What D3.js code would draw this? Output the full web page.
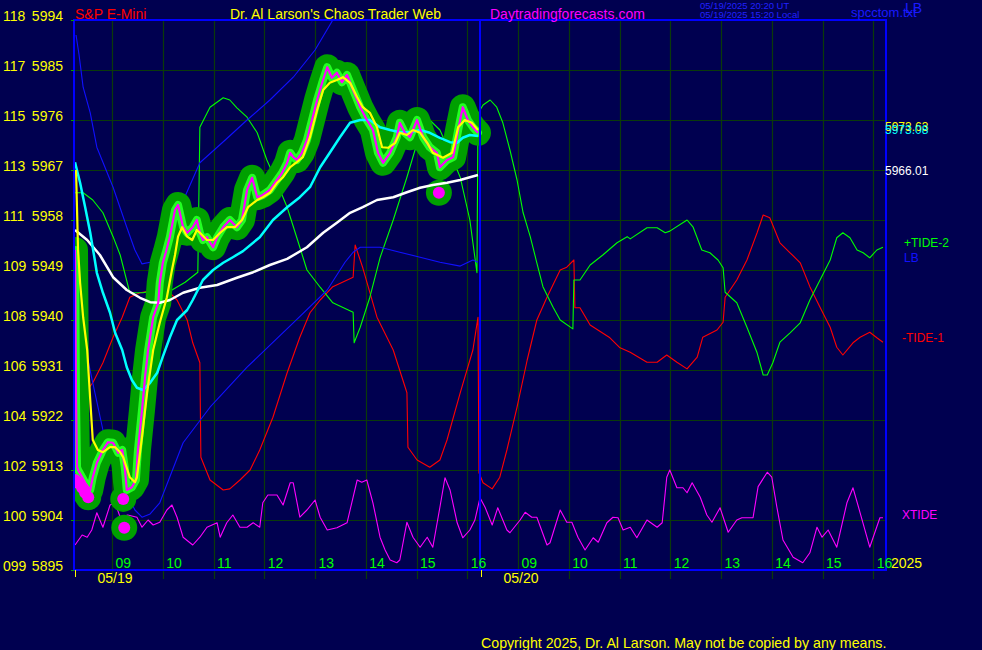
<!DOCTYPE html>
<html><head><meta charset="utf-8">
<script src="https://cdn.jsdelivr.net/npm/d3@7/dist/d3.min.js"></script>
<style>
html,body{margin:0;padding:0;background:#000050;}
svg{display:block;font-family:"Liberation Sans",Arial,sans-serif;}
</style></head><body>
<svg id="c" width="982" height="650"></svg>
<script>
// ---------- DATA ----------
const priceTicks = [5994,5985,5976,5967,5958,5949,5940,5931,5922,5913,5904,5895];
const altTicks = ["118","117","115","113","111","109","108","106","104","102","100","099"];
const hourTicks = [9,10,11,12,13,14,15,16];
const hourLabels = ["09","10","11","12","13","14","15","16"];
const dayLabels = ["05/19","05/20"];
const sessionOpen = 8.25;   // 08:15
const sessionHours = 8;

// times are session hours since 05/19 08:15 (day 2 starts at 8)
const price = [[0.02,5952.6],[0.04,5925.6],[0.06,5913.5],[0.08,5913.0],[0.16,5911.7],[0.22,5910.7],[0.32,5909.4],
[0.37,5911.7],[0.45,5914.3],[0.57,5916.6],[0.67,5918.0],[0.77,5917.9],[0.87,5916.1],[0.95,5916.6],[1.00,5913.5],
[1.04,5909.4],[1.14,5909.9],[1.22,5911.2],[1.26,5916.6],[1.34,5923.8],[1.40,5929.7],[1.46,5934.6],[1.56,5940.5],
[1.66,5943.1],[1.69,5946.7],[1.75,5950.3],[1.81,5952.2],[1.89,5955.0],[1.99,5959.8],[2.05,5960.7],[2.15,5956.7],
[2.23,5955.7],[2.34,5956.7],[2.42,5958.0],[2.48,5955.7],[2.54,5954.4],[2.62,5954.9],[2.74,5953.1],[2.82,5954.9],
[2.94,5956.7],[3.07,5958.0],[3.21,5956.7],[3.31,5958.0],[3.41,5963.4],[3.51,5965.6],[3.61,5962.1],[3.72,5962.5],
[3.86,5963.4],[4.00,5965.2],[4.10,5966.5],[4.20,5968.3],[4.26,5970.1],[4.32,5969.3],[4.39,5968.8],[4.49,5970.1],
[4.59,5972.4],[4.69,5976.0],[4.79,5979.6],[4.89,5982.7],[4.99,5985.5],[5.08,5983.6],[5.18,5984.5],[5.28,5982.8],
[5.38,5984.1],[5.50,5981.4],[5.64,5978.3],[5.77,5976.0],[5.89,5974.2],[5.99,5970.1],[6.09,5968.3],[6.23,5970.1],
[6.36,5972.9],[6.42,5975.5],[6.52,5973.7],[6.62,5972.9],[6.76,5976.0],[6.88,5972.9],[7.01,5971.1],[7.15,5970.1],
[7.21,5967.5],[7.35,5968.8],[7.47,5969.3],[7.57,5974.2],[7.66,5978.3],[7.76,5976.0],[7.86,5974.7],[7.96,5973.7]];

const fastAvg = [[0.04,5967.0],[0.08,5952.6],[0.12,5946.7],[0.18,5940.5],[0.26,5934.6],[0.32,5925.6],[0.37,5918.4],
[0.47,5916.6],[0.57,5916.2],[0.71,5917.1],[0.81,5917.1],[0.91,5916.2],[0.97,5915.3],[1.10,5911.7],[1.20,5910.8],
[1.24,5911.7],[1.34,5918.9],[1.44,5926.9],[1.56,5934.6],[1.69,5939.5],[1.83,5944.1],[1.93,5949.0],[1.99,5951.7],
[2.05,5955.0],[2.13,5956.7],[2.23,5955.0],[2.33,5954.4],[2.42,5956.2],[2.48,5955.7],[2.62,5954.4],[2.74,5954.4],
[2.88,5955.7],[3.01,5956.7],[3.17,5956.7],[3.31,5958.0],[3.43,5960.3],[3.61,5961.6],[3.72,5962.1],[3.86,5962.9],
[4.00,5964.7],[4.12,5965.7],[4.26,5967.5],[4.39,5968.4],[4.51,5969.3],[4.65,5972.9],[4.79,5977.8],[4.91,5981.4],
[5.04,5982.7],[5.18,5983.2],[5.30,5983.7],[5.44,5982.7],[5.58,5980.1],[5.69,5978.3],[5.83,5977.3],[5.97,5974.7],
[6.07,5971.1],[6.19,5971.0],[6.33,5971.9],[6.42,5973.7],[6.56,5973.3],[6.68,5974.2],[6.82,5973.7],[6.96,5971.9],
[7.07,5970.1],[7.27,5969.2],[7.45,5970.1],[7.57,5974.7],[7.70,5976.0],[7.84,5975.5],[7.96,5974.2]];

const midAvg = [[0.02,5968.4],[0.12,5964.7],[0.22,5960.3],[0.32,5955.7],[0.41,5950.8],[0.45,5948.5],[0.57,5944.9],
[0.71,5941.3],[0.81,5937.7],[0.95,5934.6],[1.04,5931.5],[1.14,5929.2],[1.24,5927.8],[1.36,5927.4],[1.50,5928.7],
[1.64,5930.5],[1.75,5933.4],[1.89,5936.9],[2.03,5940.0],[2.13,5940.9],[2.23,5941.8],[2.34,5943.6],[2.54,5947.2],
[2.74,5949.0],[2.94,5950.3],[3.13,5951.3],[3.33,5952.4],[3.66,5954.9],[3.92,5958.0],[4.20,5960.3],[4.45,5962.1],
[4.65,5963.9],[4.85,5967.5],[5.04,5970.1],[5.24,5972.9],[5.44,5975.5],[5.64,5976.0],[5.83,5976.0],[6.03,5974.7],
[6.23,5974.2],[6.42,5973.8],[6.62,5973.8],[6.82,5974.2],[7.01,5973.7],[7.21,5972.8],[7.41,5972.0],[7.55,5971.9],
[7.66,5972.8],[7.80,5973.3],[7.96,5973.1]];

const slowAvg = [[0.02,5956.2],[0.26,5954.4],[0.51,5951.7],[0.77,5947.7],[1.04,5945.4],[1.30,5944.0],[1.50,5943.2],
[1.69,5943.1],[1.89,5943.6],[2.15,5944.9],[2.48,5945.8],[2.82,5946.3],[3.21,5947.6],[3.53,5948.6],[3.86,5949.9],
[4.20,5951.0],[4.59,5953.1],[4.91,5955.7],[5.18,5957.5],[5.44,5959.3],[5.69,5960.3],[5.97,5961.6],[6.29,5962.1],
[6.56,5963.0],[6.82,5963.8],[7.07,5964.3],[7.35,5964.7],[7.61,5965.2],[7.80,5965.7],[7.96,5966.1]];

const upperBand = [[0.04,5991.3],[0.10,5987.7],[0.18,5981.9],[0.32,5977.3],[0.45,5971.1],[0.77,5963.9],[1.04,5956.7],
[1.20,5952.6],[1.34,5950.1],[1.50,5950.4],[1.69,5953.5],[2.09,5960.2],[2.48,5968.3],[2.98,5972.4],[3.41,5976.0],
[3.86,5979.6],[4.32,5983.7],[4.75,5988.6],[5.10,5994.0],[5.34,5997.6]];

const lowerBand = [[0.04,5945.4],[0.18,5936.9],[0.37,5928.7],[0.57,5920.2],[0.91,5911.2],[1.20,5905.8],[1.34,5904.5],
[1.50,5905.1],[1.69,5907.1],[2.15,5917.9],[2.68,5924.3],[3.41,5931.5],[4.32,5939.5],[4.99,5945.4],[5.34,5950.4],
[5.50,5952.2],[5.64,5953.1],[6.03,5953.1],[6.42,5952.2],[6.82,5951.3],[7.21,5950.4],[7.61,5949.7],[7.86,5950.8],[7.96,5950.4]];

const tidePlus = [[0.02,5962.9],[0.18,5962.9],[0.37,5961.6],[0.57,5959.3],[0.77,5955.0],[0.91,5951.7],[1.10,5944.9],
[1.36,5944.9],[1.50,5945.2],[1.69,5945.0],[1.93,5945.4],[2.19,5946.8],[2.44,5948.6],[2.48,5974.7],[2.68,5978.3],
[2.94,5980.0],[3.07,5979.6],[3.21,5978.2],[3.41,5976.5],[3.61,5973.7],[3.80,5968.8],[4.00,5964.7],[4.20,5960.3],
[4.45,5953.1],[4.59,5949.0],[4.85,5945.9],[5.10,5943.1],[5.50,5941.4],[5.52,5935.9],[5.64,5938.7],[5.83,5944.1],
[6.03,5951.2],[6.29,5958.0],[6.56,5965.7],[6.82,5973.7],[7.01,5976.0],[7.21,5974.2],[7.41,5970.1],[7.61,5965.7],
[7.80,5958.0],[7.94,5948.5],[7.96,5976.9],
[8.00,5977.8],[8.06,5978.7],[8.20,5979.6],[8.33,5978.3],[8.45,5975.5],[8.59,5970.6],[8.73,5965.2],[8.85,5959.3],
[8.99,5955.0],[9.12,5950.3],[9.24,5946.0],[9.44,5942.3],[9.58,5940.0],[9.83,5938.4],[9.85,5947.2],[9.97,5947.2],
[10.17,5949.9],[10.42,5951.7],[10.70,5953.9],[10.90,5955.0],[10.96,5954.6],[11.29,5956.6],[11.49,5956.6],[11.65,5955.7],
[11.74,5956.0],[12.08,5958.0],[12.20,5956.7],[12.37,5952.6],[12.53,5952.1],[12.69,5950.8],[12.79,5949.4],[12.83,5945.0],
[13.06,5943.1],[13.26,5938.7],[13.46,5934.1],[13.58,5930.1],[13.66,5930.1],[13.77,5932.3],[13.91,5936.0],[14.11,5937.7],
[14.31,5939.5],[14.50,5943.6],[14.70,5947.2],[14.90,5950.8],[15.03,5954.8],[15.15,5955.7],[15.29,5954.8],[15.43,5952.6],
[15.55,5952.1],[15.68,5951.2],[15.82,5952.6],[15.94,5953.1]];

const tideMinus = [[0.02,5926.5],[0.22,5926.9],[0.37,5928.7],[0.57,5932.3],[0.77,5936.9],[0.95,5940.5],[1.10,5944.1],
[1.30,5944.9],[1.50,5945.2],[1.69,5944.9],[1.89,5944.9],[2.03,5943.6],[2.23,5940.0],[2.34,5935.9],[2.48,5932.3],
[2.50,5915.3],[2.68,5911.2],[2.94,5909.4],[3.07,5909.6],[3.27,5911.2],[3.47,5913.0],[3.66,5916.6],[3.92,5922.5],
[4.20,5930.5],[4.45,5936.9],[4.65,5941.3],[4.85,5943.6],[5.10,5946.0],[5.50,5947.7],[5.54,5953.5],[5.69,5949.4],
[5.97,5940.5],[6.29,5934.6],[6.56,5926.9],[6.58,5917.1],[6.76,5914.8],[7.01,5913.5],[7.21,5914.8],[7.35,5918.4],
[7.61,5926.9],[7.86,5934.6],[7.96,5940.5],
[7.98,5912.5],[8.06,5910.7],[8.24,5909.6],[8.39,5911.7],[8.53,5916.6],[8.73,5924.3],[8.93,5932.8],[9.12,5940.0],
[9.32,5944.1],[9.58,5949.0],[9.71,5949.5],[9.85,5950.8],[9.87,5942.2],[9.97,5942.2],[10.17,5939.1],[10.56,5936.8],
[10.76,5935.0],[10.96,5934.2],[11.29,5932.4],[11.49,5932.4],[11.68,5933.7],[11.88,5932.4],[12.08,5931.2],[12.28,5933.3],
[12.39,5936.9],[12.67,5938.2],[12.79,5939.6],[12.83,5944.1],[13.06,5947.2],[13.26,5950.8],[13.46,5955.7],[13.58,5958.9],
[13.71,5958.4],[13.91,5953.9],[14.11,5952.1],[14.31,5950.3],[14.50,5946.0],[14.70,5942.3],[14.90,5938.7],[15.03,5935.1],
[15.15,5933.7],[15.35,5935.9],[15.49,5936.9],[15.68,5937.8],[15.82,5936.8],[15.94,5936.0]];

const xtide = [[0.02,5899.5],[0.16,5901.3],[0.26,5900.9],[0.35,5902.2],[0.45,5905.3],[0.57,5902.7],[0.71,5906.7],
[0.81,5907.1],[0.91,5904.5],[1.06,5904.9],[1.24,5904.5],[1.34,5902.7],[1.46,5904.0],[1.56,5903.1],[1.69,5903.6],
[1.83,5905.8],[1.93,5906.7],[2.03,5904.5],[2.15,5900.9],[2.34,5899.5],[2.48,5900.9],[2.62,5902.7],[2.82,5903.5],
[2.88,5900.9],[3.01,5903.5],[3.13,5904.9],[3.27,5902.7],[3.41,5902.7],[3.53,5903.5],[3.66,5902.7],[3.72,5907.1],
[3.82,5908.5],[4.00,5908.5],[4.12,5906.7],[4.26,5910.7],[4.32,5910.7],[4.45,5904.5],[4.59,5905.8],[4.75,5907.6],
[4.85,5904.5],[4.99,5902.2],[5.18,5902.6],[5.38,5903.5],[5.50,5908.1],[5.58,5911.2],[5.67,5910.8],[5.77,5911.2],
[5.89,5907.1],[6.03,5900.9],[6.13,5898.6],[6.23,5896.8],[6.36,5896.3],[6.42,5896.8],[6.56,5903.6],[6.68,5900.9],
[6.82,5899.1],[6.96,5900.9],[7.07,5899.1],[7.21,5906.3],[7.31,5911.6],[7.41,5909.4],[7.55,5903.5],[7.66,5900.8],
[7.80,5902.2],[7.90,5904.0],[8.00,5908.0],
[8.10,5906.3],[8.24,5903.1],[8.35,5906.2],[8.53,5902.2],[8.59,5901.7],[8.79,5904.0],[8.89,5905.4],[9.02,5904.5],
[9.12,5904.5],[9.32,5899.5],[9.38,5899.9],[9.58,5905.8],[9.71,5903.6],[9.81,5903.6],[9.93,5900.9],[10.07,5898.6],
[10.23,5900.8],[10.33,5900.0],[10.50,5903.5],[10.62,5904.5],[10.72,5904.4],[10.82,5902.2],[10.96,5902.7],[11.09,5900.8],
[11.29,5904.0],[11.49,5902.7],[11.59,5903.5],[11.68,5911.7],[11.74,5913.0],[11.88,5909.8],[12.00,5909.8],[12.08,5908.9],
[12.18,5910.7],[12.34,5908.1],[12.47,5904.9],[12.57,5903.6],[12.73,5906.2],[12.89,5901.8],[13.06,5904.0],[13.16,5904.4],
[13.38,5904.4],[13.48,5910.0],[13.66,5912.6],[13.75,5911.7],[13.85,5906.3],[13.97,5900.4],[14.17,5897.3],[14.36,5896.3],
[14.50,5898.1],[14.64,5902.7],[14.74,5900.9],[14.86,5902.2],[15.03,5899.1],[15.23,5907.1],[15.35,5909.8],[15.49,5905.3],
[15.68,5899.1],[15.88,5904.4],[15.94,5904.4]];

const lowMarks = [[0.02,5911.2],[0.08,5910.7],[0.16,5909.8],[0.22,5908.9],[0.28,5908.1],[0.97,5907.8],[0.99,5902.6],[7.19,5962.9]];

const lastFast = "5973.63", lastMid = "5973.08", lastSlow = "5966.01";

// ---------- LAYOUT ----------
const L = 74, R = 886, T = 20, B = 570;
const svg = d3.select("#c");
svg.append("rect").attr("width",982).attr("height",650).attr("fill","#000050");

const x = d3.scaleLinear().domain([0, 2*sessionHours]).range([L, R]);
const y = d3.scaleLinear().domain([5895, 5994]).range([B, T]);

svg.append("defs").append("clipPath").attr("id","plot")
  .append("rect").attr("x",L).attr("y",T).attr("width",R-L).attr("height",B-T);

// hour positions for both days
const hourT = [];
[0,1].forEach(d => hourTicks.forEach((h,i) => hourT.push({t: d*sessionHours + h - sessionOpen, lab: hourLabels[i]})));

// grid
const grid = svg.append("g").attr("stroke","#0a3a0a").attr("stroke-width",1.2);
grid.selectAll("line.h").data(priceTicks).join("line")
  .attr("x1",L).attr("x2",R).attr("y1",d=>Math.round(y(d))+0.5).attr("y2",d=>Math.round(y(d))+0.5);
grid.selectAll("line.v").data(hourT).join("line")
  .attr("x1",d=>Math.round(x(d.t))+0.5).attr("x2",d=>Math.round(x(d.t))+0.5).attr("y1",T).attr("y2",B+9);

const line = d3.line().x(d=>x(d[0])).y(d=>y(d[1]));
const plot = svg.append("g").attr("clip-path","url(#plot)").attr("fill","none").attr("stroke-linejoin","round");

// tides & bands
plot.append("path").datum(tideMinus).attr("d",line).attr("stroke","#ff0000").attr("stroke-width",1.1);
plot.append("path").datum(tidePlus).attr("d",line).attr("stroke","#00ff00").attr("stroke-width",1.1);
plot.append("path").datum(upperBand).attr("d",line).attr("stroke","#1010ff").attr("stroke-width",1.1);
plot.append("path").datum(lowerBand).attr("d",line).attr("stroke","#1010ff").attr("stroke-width",1.1);
plot.append("path").datum(xtide).attr("d",line).attr("stroke","#ff00ff").attr("stroke-width",1.1);

// green glow around price
plot.append("path").datum(price).attr("d",line).attr("stroke","#00a000").attr("stroke-width",26).attr("stroke-linecap","round");
plot.selectAll("circle.g").data(lowMarks).join("circle")
  .attr("cx",d=>x(d[0])).attr("cy",d=>y(d[1])).attr("r",13).attr("fill","#00a000");
plot.append("path").datum(price).attr("d",line).attr("stroke","#22ff22").attr("stroke-width",8).attr("stroke-linecap","round");

// averages
plot.append("path").datum(slowAvg).attr("d",line).attr("stroke","#ffffff").attr("stroke-width",2.5);
plot.append("path").datum(midAvg).attr("d",line).attr("stroke","#00ffff").attr("stroke-width",2.5);
plot.append("path").datum(price).attr("d",line).attr("stroke","#ff00ff").attr("stroke-width",2.2);
plot.append("path").datum(fastAvg).attr("d",line).attr("stroke","#ffff00").attr("stroke-width",2.2);
plot.selectAll("circle.m").data(lowMarks).join("circle")
  .attr("cx",d=>x(d[0])).attr("cy",d=>y(d[1])).attr("r",6).attr("fill","#ff00ff");

// frame
const frame = svg.append("g").attr("stroke","#0000ff").attr("stroke-width",2).attr("fill","none");
frame.append("rect").attr("x",L).attr("y",T).attr("width",R-L).attr("height",B-T);
frame.append("line").attr("x1",x(sessionHours)).attr("x2",x(sessionHours)).attr("y1",T).attr("y2",B);

// y axis
const font = 14;
const ya = svg.append("g").attr("transform",`translate(${L},0)`)
  .call(d3.axisLeft(y).tickValues(priceTicks).tickSize(3).tickPadding(8).tickFormat(d3.format("d")));
ya.select(".domain").remove();
ya.selectAll(".tick line").attr("stroke","#00a000");
ya.selectAll(".tick text").attr("fill","#ffff00").attr("font-size",font).attr("dy","0.05em")
  .attr("font-family","Liberation Sans, Arial, sans-serif");
svg.append("g").selectAll("text").data(priceTicks).join("text")
  .attr("x",3).attr("y",d=>y(d)).attr("dy","0.05em").attr("fill","#ffff00").attr("font-size",font)
  .text((d,i)=>altTicks[i]);

// x axis hours
const xa = svg.append("g").attr("transform",`translate(0,${B})`)
  .call(d3.axisBottom(x).tickValues(hourT.map(d=>d.t)).tickSize(0).tickFormat((d,i)=>hourT[i].lab));
xa.select(".domain").remove();
xa.selectAll(".tick text").attr("fill","#00ff00").attr("font-size",font).attr("text-anchor","start")
  .attr("x",3).attr("y",-2).attr("dy",0).attr("font-family","Liberation Sans, Arial, sans-serif");

// x axis days
const da = svg.append("g").attr("transform",`translate(0,${B})`)
  .call(d3.axisBottom(x).tickValues([0, sessionHours]).tickSize(7).tickFormat((d,i)=>dayLabels[i]));
da.select(".domain").remove();
da.selectAll(".tick line").attr("stroke","#ffff00").attr("transform","translate(1,0)");
da.selectAll(".tick text").attr("fill","#ffff00").attr("font-size",font).attr("text-anchor","start")
  .attr("x",23).attr("y",13).attr("dy",0).attr("font-family","Liberation Sans, Arial, sans-serif");

svg.append("text").attr("x",891).attr("y",568).attr("fill","#ffff00").attr("font-size",font).text("2025");

// titles
const tt = svg.append("g").attr("font-size",font);
tt.append("text").attr("x",75).attr("y",19).attr("fill","#ff0000").text("S&P E-Mini");
tt.append("text").attr("x",230).attr("y",19).attr("fill","#ffff00").text("Dr. Al Larson's Chaos Trader Web");
tt.append("text").attr("x",490).attr("y",19).attr("fill","#ff00ff").text("Daytradingforecasts.com");
tt.append("text").attr("x",851).attr("y",17).attr("fill","#1a1aff").attr("font-size",13).text("spcctom.txt");
tt.append("text").attr("x",905).attr("y",13).attr("fill","#1a1aff").attr("font-size",14).text("LB");
tt.append("text").attr("x",700).attr("y",9).attr("fill","#2020ff").attr("font-size",9.5).text("05/19/2025 20:20  UT");
tt.append("text").attr("x",700).attr("y",18).attr("fill","#2020ff").attr("font-size",9.5).text("05/19/2025 15:20  Local");

// right labels
const rl = svg.append("g").attr("font-size",12);
rl.append("text").attr("x",885).attr("y",y(+lastFast)-2).attr("fill","#ffff00").text(lastFast);
rl.append("text").attr("x",885).attr("y",y(+lastMid)-2).attr("fill","#00ffff").text(lastMid);
rl.append("text").attr("x",885).attr("y",y(+lastSlow)-1).attr("fill","#ffffff").text(lastSlow);
rl.append("text").attr("x",904).attr("y",y(tidePlus[tidePlus.length-1][1])).attr("fill","#00ff00").text("+TIDE-2");
rl.append("text").attr("x",904).attr("y",y(lowerBand[lowerBand.length-1][1])).attr("fill","#1010ff").text("LB");
rl.append("text").attr("x",902).attr("y",y(tideMinus[tideMinus.length-1][1])).attr("fill","#ff0000").text("-TIDE-1");
rl.append("text").attr("x",902).attr("y",y(xtide[xtide.length-1][1])+1).attr("fill","#ff00ff").text("XTIDE");

svg.append("text").attr("x",481).attr("y",648).attr("fill","#ffff00").attr("font-size",14.2)
  .text("Copyright 2025, Dr. Al Larson. May not be copied by any means.");
</script>
</body></html>
